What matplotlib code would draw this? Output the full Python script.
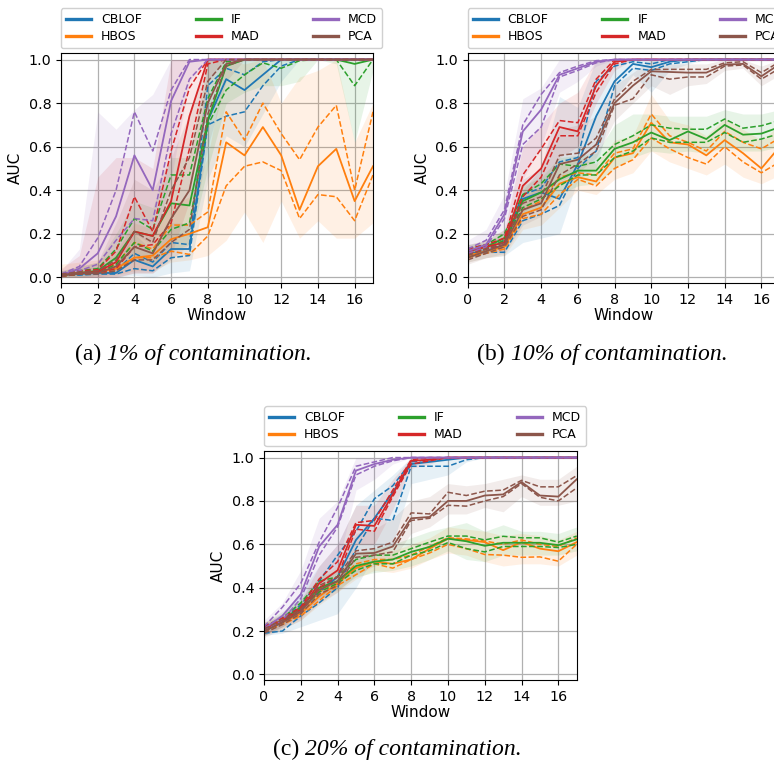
import matplotlib
matplotlib.use("Agg")
import matplotlib.pyplot as plt

METHODS = ["CBLOF", "HBOS", "IF", "MAD", "MCD", "PCA"]
COLORS = ["tab:blue", "tab:orange", "tab:green", "tab:red", "tab:purple", "tab:brown"]
WINDOWS = [0, 1, 2, 3, 4, 5, 6, 7, 8, 9, 10, 11, 12, 13, 14, 15, 16, 17]
X_TICKS = [0, 2, 4, 6, 8, 10, 12, 14, 16]
Y_TICKS = [0.0, 0.2, 0.4, 0.6, 0.8, 1.0]

# ---------------- (a) 1% contamination ----------------
A_MEAN_CBLOF = [0.01, 0.015, 0.02, 0.02, 0.08, 0.05, 0.13, 0.13, 0.72, 0.91, 0.86, 0.93, 1.0, 1.0, 1.0, 1.0, 1.0, 1.0]
A_LO_CBLOF = [0.01, 0.01, 0.015, 0.015, 0.04, 0.03, 0.09, 0.10, 0.70, 0.74, 0.76, 0.88, 0.97, 1.0, 1.0, 1.0, 1.0, 1.0]
A_HI_CBLOF = [0.015, 0.02, 0.025, 0.03, 0.11, 0.07, 0.16, 0.15, 0.88, 0.96, 0.93, 0.99, 1.0, 1.0, 1.0, 1.0, 1.0, 1.0]
A_BLO_CBLOF = [0.0, 0.0, 0.0, 0.0, 0.01, 0.0, 0.02, 0.03, 0.45, 0.65, 0.60, 0.75, 0.90, 1.0, 1.0, 1.0, 1.0, 1.0]
A_BHI_CBLOF = [0.03, 0.04, 0.05, 0.06, 0.20, 0.12, 0.25, 0.25, 1.0, 1.0, 1.0, 1.0, 1.0, 1.0, 1.0, 1.0, 1.0, 1.0]

A_MEAN_HBOS = [0.01, 0.02, 0.025, 0.04, 0.09, 0.10, 0.175, 0.20, 0.23, 0.62, 0.56, 0.69, 0.56, 0.31, 0.51, 0.59, 0.35, 0.51]
A_LO_HBOS = [0.005, 0.015, 0.02, 0.03, 0.09, 0.09, 0.12, 0.105, 0.19, 0.42, 0.51, 0.53, 0.49, 0.27, 0.38, 0.37, 0.26, 0.47]
A_HI_HBOS = [0.015, 0.025, 0.03, 0.06, 0.16, 0.13, 0.24, 0.24, 0.30, 0.76, 0.63, 0.80, 0.66, 0.54, 0.69, 0.79, 0.40, 0.76]
A_BLO_HBOS = [0.0, 0.0, 0.0, 0.01, 0.03, 0.03, 0.07, 0.08, 0.10, 0.17, 0.30, 0.16, 0.35, 0.18, 0.26, 0.18, 0.18, 0.25]
A_BHI_HBOS = [0.06, 0.07, 0.08, 0.12, 0.25, 0.22, 0.33, 0.37, 0.55, 1.0, 0.98, 1.0, 0.80, 0.92, 0.95, 1.0, 0.62, 0.80]

A_MEAN_IF = [0.01, 0.02, 0.03, 0.09, 0.21, 0.19, 0.34, 0.33, 0.72, 0.97, 1.0, 1.0, 1.0, 1.0, 1.0, 1.0, 0.98, 1.0]
A_LO_IF = [0.005, 0.015, 0.02, 0.06, 0.16, 0.12, 0.22, 0.25, 0.70, 0.86, 0.93, 0.985, 0.96, 0.995, 1.0, 1.0, 0.88, 1.0]
A_HI_IF = [0.015, 0.03, 0.04, 0.13, 0.27, 0.22, 0.47, 0.47, 0.82, 0.99, 1.0, 1.0, 1.0, 1.0, 1.0, 1.0, 1.0, 1.0]
A_BLO_IF = [0.0, 0.0, 0.01, 0.02, 0.08, 0.06, 0.12, 0.15, 0.50, 0.80, 0.85, 0.88, 0.88, 0.90, 1.0, 0.98, 0.62, 0.95]
A_BHI_IF = [0.03, 0.05, 0.07, 0.20, 0.35, 0.32, 0.55, 0.55, 1.0, 1.0, 1.0, 1.0, 1.0, 1.0, 1.0, 1.0, 1.0, 1.0]

A_MEAN_MAD = [0.01, 0.02, 0.025, 0.07, 0.21, 0.19, 0.35, 0.74, 1.0, 1.0, 1.0, 1.0, 1.0, 1.0, 1.0, 1.0, 1.0, 1.0]
A_LO_MAD = [0.005, 0.015, 0.02, 0.04, 0.14, 0.15, 0.25, 0.59, 0.98, 1.0, 1.0, 1.0, 1.0, 1.0, 1.0, 1.0, 1.0, 1.0]
A_HI_MAD = [0.015, 0.03, 0.035, 0.12, 0.37, 0.21, 0.58, 0.87, 1.0, 1.0, 1.0, 1.0, 1.0, 1.0, 1.0, 1.0, 1.0, 1.0]
A_BLO_MAD = [0.0, 0.0, 0.0, 0.0, 0.02, 0.02, 0.10, 0.35, 0.90, 1.0, 1.0, 1.0, 1.0, 1.0, 1.0, 1.0, 1.0, 1.0]
A_BHI_MAD = [0.04, 0.10, 0.46, 0.55, 0.55, 0.50, 1.0, 1.0, 1.0, 1.0, 1.0, 1.0, 1.0, 1.0, 1.0, 1.0, 1.0, 1.0]

A_MEAN_MCD = [0.01, 0.04, 0.11, 0.28, 0.56, 0.40, 0.81, 0.99, 1.0, 1.0, 1.0, 1.0, 1.0, 1.0, 1.0, 1.0, 1.0, 1.0]
A_LO_MCD = [0.005, 0.03, 0.06, 0.17, 0.27, 0.26, 0.66, 0.91, 1.0, 1.0, 1.0, 1.0, 1.0, 1.0, 1.0, 1.0, 1.0, 1.0]
A_HI_MCD = [0.015, 0.05, 0.18, 0.40, 0.76, 0.58, 0.86, 1.0, 1.0, 1.0, 1.0, 1.0, 1.0, 1.0, 1.0, 1.0, 1.0, 1.0]
A_BLO_MCD = [0.0, 0.0, 0.0, 0.02, 0.20, 0.15, 0.45, 0.90, 1.0, 1.0, 1.0, 1.0, 1.0, 1.0, 1.0, 1.0, 1.0, 1.0]
A_BHI_MCD = [0.03, 0.13, 0.76, 0.68, 0.77, 0.84, 1.0, 1.0, 1.0, 1.0, 1.0, 1.0, 1.0, 1.0, 1.0, 1.0, 1.0, 1.0]

A_MEAN_PCA = [0.01, 0.02, 0.02, 0.05, 0.14, 0.11, 0.27, 0.40, 0.80, 0.98, 1.0, 1.0, 1.0, 1.0, 1.0, 1.0, 1.0, 1.0]
A_LO_PCA = [0.005, 0.015, 0.015, 0.03, 0.08, 0.08, 0.16, 0.22, 0.75, 0.97, 1.0, 1.0, 1.0, 1.0, 1.0, 1.0, 1.0, 1.0]
A_HI_PCA = [0.015, 0.025, 0.03, 0.08, 0.21, 0.16, 0.40, 0.55, 0.90, 1.0, 1.0, 1.0, 1.0, 1.0, 1.0, 1.0, 1.0, 1.0]
A_BLO_PCA = [0.0, 0.0, 0.0, 0.0, 0.02, 0.02, 0.08, 0.15, 0.60, 0.90, 1.0, 1.0, 1.0, 1.0, 1.0, 1.0, 1.0, 1.0]
A_BHI_PCA = [0.03, 0.05, 0.07, 0.25, 0.45, 0.40, 0.55, 0.75, 1.0, 1.0, 1.0, 1.0, 1.0, 1.0, 1.0, 1.0, 1.0, 1.0]

# ---------------- (b) 10% contamination ----------------
B_MEAN_CBLOF = [0.11, 0.12, 0.15, 0.36, 0.39, 0.36, 0.52, 0.74, 0.90, 0.98, 0.965, 0.99, 1.0, 1.0, 1.0, 1.0, 1.0, 1.0]
B_LO_CBLOF = [0.095, 0.115, 0.115, 0.26, 0.29, 0.33, 0.50, 0.58, 0.88, 0.96, 0.95, 0.98, 0.99, 1.0, 1.0, 1.0, 1.0, 1.0]
B_HI_CBLOF = [0.12, 0.13, 0.17, 0.38, 0.41, 0.53, 0.55, 0.90, 0.97, 0.99, 0.98, 1.0, 1.0, 1.0, 1.0, 1.0, 1.0, 1.0]
B_BLO_CBLOF = [0.07, 0.09, 0.10, 0.16, 0.18, 0.20, 0.45, 0.50, 0.82, 0.93, 0.85, 0.95, 0.98, 1.0, 1.0, 1.0, 1.0, 1.0]
B_BHI_CBLOF = [0.15, 0.16, 0.20, 0.45, 0.50, 0.83, 0.78, 1.0, 1.0, 1.0, 1.0, 1.0, 1.0, 1.0, 1.0, 1.0, 1.0, 1.0]

B_MEAN_HBOS = [0.10, 0.12, 0.14, 0.29, 0.32, 0.43, 0.46, 0.44, 0.55, 0.57, 0.71, 0.62, 0.61, 0.56, 0.63, 0.57, 0.50, 0.60]
B_LO_HBOS = [0.09, 0.11, 0.13, 0.27, 0.29, 0.38, 0.45, 0.42, 0.50, 0.54, 0.64, 0.59, 0.55, 0.52, 0.60, 0.53, 0.48, 0.53]
B_HI_HBOS = [0.11, 0.14, 0.16, 0.31, 0.35, 0.46, 0.48, 0.47, 0.57, 0.59, 0.75, 0.65, 0.62, 0.58, 0.67, 0.62, 0.59, 0.64]
B_BLO_HBOS = [0.07, 0.09, 0.10, 0.22, 0.24, 0.32, 0.40, 0.38, 0.45, 0.48, 0.58, 0.53, 0.50, 0.47, 0.52, 0.46, 0.43, 0.47]
B_BHI_HBOS = [0.14, 0.16, 0.20, 0.37, 0.42, 0.52, 0.55, 0.52, 0.63, 0.65, 0.84, 0.72, 0.70, 0.65, 0.73, 0.68, 0.63, 0.70]

B_MEAN_IF = [0.12, 0.14, 0.18, 0.35, 0.39, 0.45, 0.49, 0.49, 0.59, 0.62, 0.665, 0.63, 0.67, 0.635, 0.70, 0.655, 0.66, 0.69]
B_LO_IF = [0.11, 0.13, 0.17, 0.32, 0.36, 0.42, 0.47, 0.47, 0.55, 0.58, 0.64, 0.62, 0.62, 0.62, 0.665, 0.62, 0.635, 0.66]
B_HI_IF = [0.13, 0.15, 0.20, 0.38, 0.43, 0.52, 0.51, 0.53, 0.61, 0.65, 0.70, 0.685, 0.68, 0.68, 0.727, 0.685, 0.696, 0.72]
B_BLO_IF = [0.09, 0.11, 0.14, 0.28, 0.32, 0.38, 0.42, 0.43, 0.50, 0.55, 0.58, 0.57, 0.58, 0.57, 0.60, 0.58, 0.58, 0.60]
B_BHI_IF = [0.15, 0.17, 0.22, 0.42, 0.46, 0.55, 0.56, 0.57, 0.70, 0.75, 0.75, 0.74, 0.74, 0.74, 0.77, 0.75, 0.75, 0.77]

B_MEAN_MAD = [0.12, 0.14, 0.16, 0.42, 0.50, 0.69, 0.67, 0.88, 0.99, 1.0, 1.0, 1.0, 1.0, 1.0, 1.0, 1.0, 1.0, 1.0]
B_LO_MAD = [0.11, 0.13, 0.15, 0.37, 0.46, 0.65, 0.65, 0.85, 0.98, 1.0, 1.0, 1.0, 1.0, 1.0, 1.0, 1.0, 1.0, 1.0]
B_HI_MAD = [0.13, 0.15, 0.18, 0.47, 0.59, 0.72, 0.71, 0.91, 1.0, 1.0, 1.0, 1.0, 1.0, 1.0, 1.0, 1.0, 1.0, 1.0]
B_BLO_MAD = [0.09, 0.11, 0.12, 0.30, 0.35, 0.55, 0.60, 0.80, 0.95, 1.0, 1.0, 1.0, 1.0, 1.0, 1.0, 1.0, 1.0, 1.0]
B_BHI_MAD = [0.15, 0.17, 0.22, 0.60, 0.70, 0.80, 0.85, 1.0, 1.0, 1.0, 1.0, 1.0, 1.0, 1.0, 1.0, 1.0, 1.0, 1.0]

B_MEAN_MCD = [0.12, 0.15, 0.29, 0.67, 0.77, 0.93, 0.96, 0.99, 1.0, 1.0, 1.0, 1.0, 1.0, 1.0, 1.0, 1.0, 1.0, 1.0]
B_LO_MCD = [0.11, 0.14, 0.27, 0.61, 0.69, 0.92, 0.95, 0.985, 1.0, 1.0, 1.0, 1.0, 1.0, 1.0, 1.0, 1.0, 1.0, 1.0]
B_HI_MCD = [0.13, 0.17, 0.31, 0.70, 0.84, 0.94, 0.97, 0.995, 1.0, 1.0, 1.0, 1.0, 1.0, 1.0, 1.0, 1.0, 1.0, 1.0]
B_BLO_MCD = [0.08, 0.12, 0.20, 0.45, 0.60, 0.85, 0.90, 0.97, 1.0, 1.0, 1.0, 1.0, 1.0, 1.0, 1.0, 1.0, 1.0, 1.0]
B_BHI_MCD = [0.17, 0.22, 0.38, 0.82, 0.87, 1.0, 1.0, 1.0, 1.0, 1.0, 1.0, 1.0, 1.0, 1.0, 1.0, 1.0, 1.0, 1.0]

B_MEAN_PCA = [0.09, 0.12, 0.15, 0.31, 0.34, 0.52, 0.54, 0.61, 0.80, 0.88, 0.946, 0.943, 0.94, 0.94, 0.977, 0.98, 0.923, 0.98]
B_LO_PCA = [0.08, 0.11, 0.14, 0.28, 0.31, 0.47, 0.52, 0.58, 0.79, 0.82, 0.93, 0.91, 0.92, 0.92, 0.97, 0.975, 0.91, 0.96]
B_HI_PCA = [0.10, 0.13, 0.16, 0.34, 0.37, 0.56, 0.57, 0.64, 0.82, 0.90, 0.955, 0.955, 0.955, 0.955, 0.985, 0.99, 0.94, 0.99]
B_BLO_PCA = [0.06, 0.09, 0.11, 0.24, 0.28, 0.44, 0.48, 0.55, 0.72, 0.80, 0.88, 0.84, 0.88, 0.89, 0.95, 0.96, 0.88, 0.93]
B_BHI_PCA = [0.12, 0.15, 0.19, 0.40, 0.50, 0.68, 0.70, 0.74, 0.88, 0.94, 1.0, 0.98, 0.98, 0.98, 1.0, 1.0, 0.97, 1.0]

# ---------------- (c) 20% contamination ----------------
C_MEAN_CBLOF = [0.20, 0.24, 0.30, 0.38, 0.45, 0.62, 0.72, 0.84, 0.97, 0.98, 0.99, 1.0, 1.0, 1.0, 1.0, 1.0, 1.0, 1.0]
C_LO_CBLOF = [0.19, 0.20, 0.27, 0.33, 0.40, 0.58, 0.72, 0.71, 0.96, 0.96, 0.96, 0.99, 1.0, 1.0, 1.0, 1.0, 1.0, 1.0]
C_HI_CBLOF = [0.21, 0.25, 0.32, 0.43, 0.55, 0.66, 0.81, 0.87, 0.98, 0.99, 1.0, 1.0, 1.0, 1.0, 1.0, 1.0, 1.0, 1.0]
C_BLO_CBLOF = [0.18, 0.19, 0.22, 0.25, 0.28, 0.40, 0.55, 0.60, 0.88, 0.90, 0.92, 0.98, 1.0, 1.0, 1.0, 1.0, 1.0, 1.0]
C_BHI_CBLOF = [0.23, 0.28, 0.38, 0.50, 0.60, 0.78, 0.85, 0.92, 1.0, 1.0, 1.0, 1.0, 1.0, 1.0, 1.0, 1.0, 1.0, 1.0]

C_MEAN_HBOS = [0.21, 0.24, 0.28, 0.36, 0.42, 0.49, 0.52, 0.51, 0.53, 0.58, 0.626, 0.62, 0.61, 0.573, 0.61, 0.58, 0.568, 0.61]
C_LO_HBOS = [0.20, 0.23, 0.27, 0.34, 0.41, 0.46, 0.51, 0.49, 0.53, 0.56, 0.60, 0.58, 0.553, 0.55, 0.54, 0.542, 0.522, 0.60]
C_HI_HBOS = [0.22, 0.25, 0.29, 0.38, 0.43, 0.51, 0.53, 0.53, 0.55, 0.59, 0.63, 0.625, 0.615, 0.60, 0.62, 0.60, 0.59, 0.63]
C_BLO_HBOS = [0.18, 0.21, 0.25, 0.32, 0.38, 0.44, 0.48, 0.47, 0.49, 0.53, 0.56, 0.55, 0.52, 0.50, 0.51, 0.51, 0.50, 0.55]
C_BHI_HBOS = [0.24, 0.27, 0.31, 0.41, 0.46, 0.55, 0.57, 0.57, 0.60, 0.63, 0.68, 0.67, 0.66, 0.64, 0.65, 0.64, 0.62, 0.66]

C_MEAN_IF = [0.21, 0.25, 0.31, 0.40, 0.43, 0.50, 0.52, 0.53, 0.565, 0.588, 0.626, 0.614, 0.593, 0.607, 0.607, 0.607, 0.596, 0.623]
C_LO_IF = [0.20, 0.24, 0.30, 0.38, 0.42, 0.48, 0.51, 0.51, 0.55, 0.57, 0.608, 0.58, 0.565, 0.59, 0.59, 0.59, 0.585, 0.60]
C_HI_IF = [0.22, 0.26, 0.33, 0.43, 0.45, 0.53, 0.55, 0.55, 0.58, 0.61, 0.638, 0.638, 0.62, 0.637, 0.63, 0.63, 0.61, 0.638]
C_BLO_IF = [0.18, 0.22, 0.28, 0.35, 0.39, 0.45, 0.47, 0.48, 0.50, 0.53, 0.57, 0.53, 0.52, 0.55, 0.55, 0.55, 0.55, 0.57]
C_BHI_IF = [0.24, 0.29, 0.35, 0.45, 0.48, 0.56, 0.58, 0.60, 0.63, 0.66, 0.68, 0.70, 0.66, 0.69, 0.66, 0.66, 0.65, 0.68]

C_MEAN_MAD = [0.21, 0.25, 0.30, 0.42, 0.48, 0.69, 0.685, 0.83, 0.985, 0.99, 1.0, 1.0, 1.0, 1.0, 1.0, 1.0, 1.0, 1.0]
C_LO_MAD = [0.20, 0.24, 0.29, 0.40, 0.45, 0.67, 0.66, 0.82, 0.97, 0.985, 1.0, 1.0, 1.0, 1.0, 1.0, 1.0, 1.0, 1.0]
C_HI_MAD = [0.22, 0.26, 0.31, 0.44, 0.52, 0.70, 0.71, 0.85, 0.99, 1.0, 1.0, 1.0, 1.0, 1.0, 1.0, 1.0, 1.0, 1.0]
C_BLO_MAD = [0.18, 0.22, 0.26, 0.35, 0.40, 0.60, 0.60, 0.76, 0.95, 0.97, 1.0, 1.0, 1.0, 1.0, 1.0, 1.0, 1.0, 1.0]
C_BHI_MAD = [0.24, 0.28, 0.34, 0.50, 0.60, 0.78, 0.78, 0.90, 1.0, 1.0, 1.0, 1.0, 1.0, 1.0, 1.0, 1.0, 1.0, 1.0]

C_MEAN_MCD = [0.21, 0.27, 0.37, 0.59, 0.69, 0.94, 0.97, 0.99, 1.0, 1.0, 1.0, 1.0, 1.0, 1.0, 1.0, 1.0, 1.0, 1.0]
C_LO_MCD = [0.20, 0.25, 0.35, 0.55, 0.68, 0.92, 0.96, 0.985, 1.0, 1.0, 1.0, 1.0, 1.0, 1.0, 1.0, 1.0, 1.0, 1.0]
C_HI_MCD = [0.22, 0.31, 0.42, 0.61, 0.77, 0.96, 0.98, 1.0, 1.0, 1.0, 1.0, 1.0, 1.0, 1.0, 1.0, 1.0, 1.0, 1.0]
C_BLO_MCD = [0.18, 0.22, 0.30, 0.45, 0.50, 0.85, 0.90, 0.97, 1.0, 1.0, 1.0, 1.0, 1.0, 1.0, 1.0, 1.0, 1.0, 1.0]
C_BHI_MCD = [0.25, 0.33, 0.48, 0.72, 0.80, 1.0, 1.0, 1.0, 1.0, 1.0, 1.0, 1.0, 1.0, 1.0, 1.0, 1.0, 1.0, 1.0]

C_MEAN_PCA = [0.20, 0.24, 0.29, 0.39, 0.43, 0.557, 0.56, 0.59, 0.72, 0.726, 0.80, 0.80, 0.825, 0.83, 0.887, 0.825, 0.82, 0.90]
C_LO_PCA = [0.19, 0.23, 0.28, 0.37, 0.41, 0.54, 0.55, 0.565, 0.71, 0.72, 0.78, 0.776, 0.80, 0.82, 0.88, 0.817, 0.80, 0.86]
C_HI_PCA = [0.21, 0.25, 0.30, 0.41, 0.45, 0.57, 0.58, 0.61, 0.745, 0.74, 0.84, 0.825, 0.845, 0.85, 0.895, 0.865, 0.865, 0.917]
C_BLO_PCA = [0.17, 0.21, 0.25, 0.33, 0.38, 0.46, 0.50, 0.53, 0.65, 0.68, 0.74, 0.74, 0.77, 0.75, 0.82, 0.78, 0.78, 0.80]
C_BHI_PCA = [0.23, 0.27, 0.33, 0.45, 0.50, 0.65, 0.67, 0.72, 0.80, 0.82, 0.88, 0.87, 0.88, 0.90, 0.92, 0.90, 0.90, 0.96]

CAPTIONS = [("(a)", "1% of contamination."),
            ("(b)", "10% of contamination."),
            ("(c)", "20% of contamination.")]

PANELS = [
    ([A_MEAN_CBLOF, A_MEAN_HBOS, A_MEAN_IF, A_MEAN_MAD, A_MEAN_MCD, A_MEAN_PCA],
     [A_LO_CBLOF, A_LO_HBOS, A_LO_IF, A_LO_MAD, A_LO_MCD, A_LO_PCA],
     [A_HI_CBLOF, A_HI_HBOS, A_HI_IF, A_HI_MAD, A_HI_MCD, A_HI_PCA],
     [A_BLO_CBLOF, A_BLO_HBOS, A_BLO_IF, A_BLO_MAD, A_BLO_MCD, A_BLO_PCA],
     [A_BHI_CBLOF, A_BHI_HBOS, A_BHI_IF, A_BHI_MAD, A_BHI_MCD, A_BHI_PCA]),
    ([B_MEAN_CBLOF, B_MEAN_HBOS, B_MEAN_IF, B_MEAN_MAD, B_MEAN_MCD, B_MEAN_PCA],
     [B_LO_CBLOF, B_LO_HBOS, B_LO_IF, B_LO_MAD, B_LO_MCD, B_LO_PCA],
     [B_HI_CBLOF, B_HI_HBOS, B_HI_IF, B_HI_MAD, B_HI_MCD, B_HI_PCA],
     [B_BLO_CBLOF, B_BLO_HBOS, B_BLO_IF, B_BLO_MAD, B_BLO_MCD, B_BLO_PCA],
     [B_BHI_CBLOF, B_BHI_HBOS, B_BHI_IF, B_BHI_MAD, B_BHI_MCD, B_BHI_PCA]),
    ([C_MEAN_CBLOF, C_MEAN_HBOS, C_MEAN_IF, C_MEAN_MAD, C_MEAN_MCD, C_MEAN_PCA],
     [C_LO_CBLOF, C_LO_HBOS, C_LO_IF, C_LO_MAD, C_LO_MCD, C_LO_PCA],
     [C_HI_CBLOF, C_HI_HBOS, C_HI_IF, C_HI_MAD, C_HI_MCD, C_HI_PCA],
     [C_BLO_CBLOF, C_BLO_HBOS, C_BLO_IF, C_BLO_MAD, C_BLO_MCD, C_BLO_PCA],
     [C_BHI_CBLOF, C_BHI_HBOS, C_BHI_IF, C_BHI_MAD, C_BHI_MCD, C_BHI_PCA]),
]

# axes rectangles [left, bottom, width, height] in figure fractions;
# panel (b) runs past the right edge of the page
AX_RECTS = [
    [0.0788, 0.6296, 0.4031, 0.3010],
    [0.6043, 0.6296, 0.4031, 0.3010],
    [0.3411, 0.1099, 0.4040, 0.2997],
]
CAPTION_POS = [(0.250, 0.529), (0.778, 0.529), (0.513, 0.012)]
CAP_SIZE = 17

plt.rcParams["font.family"] = ["DejaVu Sans"]

fig = plt.figure(figsize=(7.74, 7.64), dpi=100)
fig.patch.set_facecolor("white")


def draw_panel(ax, means, los, his, blos, bhis):
    for name, color, m, lo, hi, bl, bh in zip(METHODS, COLORS, means, los, his, blos, bhis):
        ax.fill_between(WINDOWS, bl, bh, color=color, alpha=0.11, linewidth=0)
        ax.plot(WINDOWS, lo, linestyle="--", color=color, linewidth=1.1)
        ax.plot(WINDOWS, hi, linestyle="--", color=color, linewidth=1.1)
        ax.plot(WINDOWS, m, linestyle="-", color=color, linewidth=1.3, label=name)
    ax.set_xlim(0, 17)
    ax.set_ylim(-0.026, 1.03)
    ax.set_xticks(X_TICKS)
    ax.set_yticks(Y_TICKS)
    ax.set_yticklabels([f"{v:.1f}" for v in Y_TICKS])
    ax.tick_params(labelsize=10.3)
    ax.grid(True, color="#b0b0b0", linewidth=0.9)
    ax.set_axisbelow(True)
    ax.set_xlabel("Window", fontsize=11, labelpad=1)
    ax.set_ylabel("AUC", fontsize=11, labelpad=4)
    leg = ax.legend(loc="lower left", bbox_to_anchor=(0.0, 1.02, 1.03, 0.2),
                    mode="expand", ncol=3, fontsize=9, borderaxespad=0.0,
                    handlelength=2.0, labelspacing=0.35, framealpha=1.0,
                    edgecolor="#d0d0d0", fancybox=True)
    for h in leg.get_lines():
        h.set_linewidth(2.4)


for rect, panel in zip(AX_RECTS, PANELS):
    ax = fig.add_axes(rect)
    draw_panel(ax, *panel)

# captions: upright tag followed by italic text, centred as one line
renderer = fig.canvas.get_renderer()
for (tag, body), (cx, cy) in zip(CAPTIONS, CAPTION_POS):
    t1 = fig.text(0, cy, tag, family="Liberation Serif", size=CAP_SIZE, va="baseline")
    t2 = fig.text(0, cy, body, family="Liberation Serif", style="italic", size=CAP_SIZE, va="baseline")
    w1 = t1.get_window_extent(renderer).width
    w2 = t2.get_window_extent(renderer).width
    gap = 0.25 * CAP_SIZE * fig.dpi / 72.0
    W = fig.bbox.width
    left = cx * W - (w1 + gap + w2) / 2.0
    t1.set_x(left / W)
    t2.set_x((left + w1 + gap) / W)

fig.savefig("out.png", dpi=100, facecolor="white")
